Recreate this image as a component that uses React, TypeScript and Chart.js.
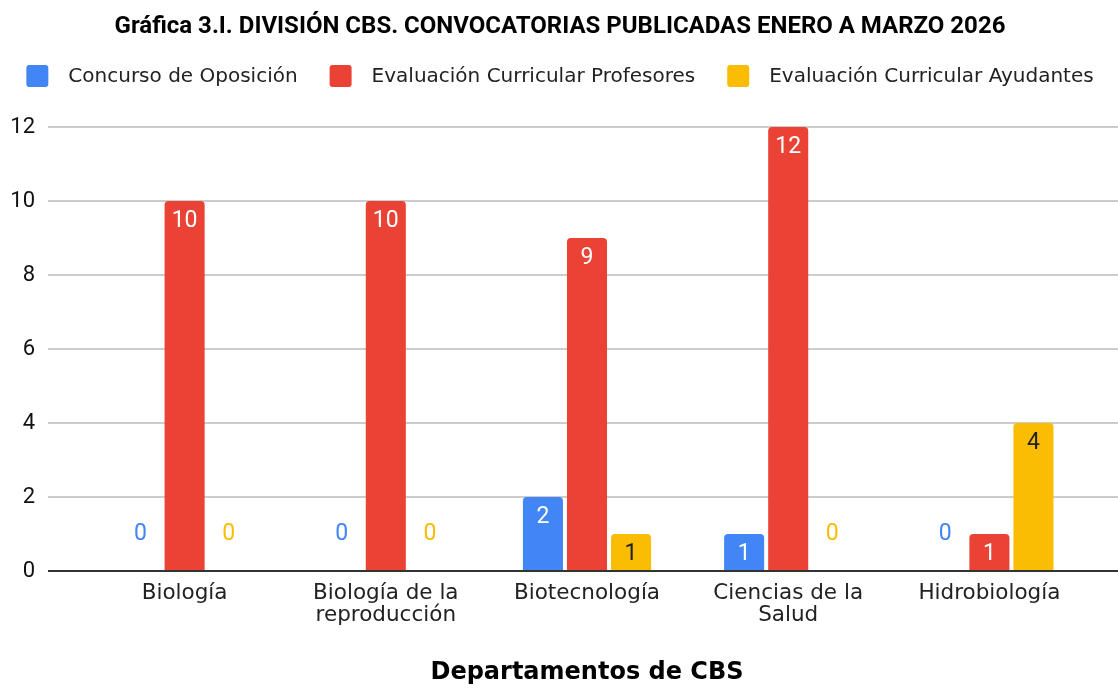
import React, { useEffect, useRef } from "react";
import { Chart, registerables } from "chart.js";

Chart.register(...registerables);

const TITLE = "Gráfica 3.I. DIVISIÓN CBS. CONVOCATORIAS PUBLICADAS ENERO A MARZO 2026";
const X_TITLE = "Departamentos de CBS";
const categories: (string | string[])[] = [
  "Biología",
  ["Biología de la", "reproducción"],
  "Biotecnología",
  ["Ciencias de la", "Salud"],
  "Hidrobiología",
];
const seriesNames = [
  "Concurso de Oposición",
  "Evaluación Curricular Profesores",
  "Evaluación Curricular Ayudantes",
];
const concurso = [0, 0, 2, 1, 0];
const profesores = [10, 10, 9, 12, 1];
const ayudantes = [0, 0, 1, 0, 4];
const colors = ["#4285F4", "#EA4335", "#FBBC04"];
const labelColors = ["#ffffff", "#ffffff", "#222222"];
const yTicks = [0, 2, 4, 6, 8, 10, 12];

const W = 1118;
const H = 688;

const gridPlugin = {
  id: "fullGrid",
  beforeDatasetsDraw(chart: any) {
    const { ctx } = chart;
    const y = chart.scales.y;
    ctx.save();
    ctx.strokeStyle = "#cccccc";
    ctx.lineWidth = 2;
    for (const v of yTicks) {
      if (v === 0) continue;
      const py = Math.round(y.getPixelForValue(v));
      ctx.beginPath();
      ctx.moveTo(48, py);
      ctx.lineTo(W, py);
      ctx.stroke();
    }
    ctx.restore();
  },
  afterDatasetsDraw(chart: any) {
    const { ctx } = chart;
    const y = chart.scales.y;
    const base = Math.round(y.getPixelForValue(0));
    ctx.save();
    ctx.strokeStyle = "#333333";
    ctx.lineWidth = 2;
    ctx.beginPath();
    ctx.moveTo(48, base);
    ctx.lineTo(W, base);
    ctx.stroke();
    // data labels
    ctx.font = "23px Roboto";
    ctx.textAlign = "center";
    ctx.textBaseline = "middle";
    chart.data.datasets.forEach((ds: any, di: number) => {
      const meta = chart.getDatasetMeta(di);
      meta.data.forEach((el: any, i: number) => {
        const v = ds.data[i];
        if (v > 0) {
          ctx.fillStyle = labelColors[di];
          ctx.fillText(String(v), el.x, el.y + 20);
        } else {
          ctx.fillStyle = colors[di];
          ctx.fillText(String(v), el.x, base - 37);
        }
      });
    });
    ctx.restore();
  },
  afterDraw(chart: any) {
    const { ctx } = chart;
    ctx.save();
    // title
    ctx.font = "bold 24px Roboto";
    ctx.fillStyle = "#000000";
    ctx.textAlign = "center";
    ctx.textBaseline = "middle";
    ctx.fillText(TITLE, 560, 27);
    // legend
    ctx.font = "20px 'DejaVu Sans'";
    const box = 22;
    const gapText = 20;
    const gapItem = 32;
    const widths = seriesNames.map((n) => ctx.measureText(n).width);
    const total =
      widths.reduce((a, w) => a + box + gapText + w, 0) + gapItem * (seriesNames.length - 1);
    let x = 560 - total / 2;
    const cy = 76;
    ctx.textAlign = "left";
    seriesNames.forEach((n, i) => {
      ctx.fillStyle = colors[i];
      ctx.beginPath();
      (ctx as any).roundRect(x, cy - box / 2, box, box, 3);
      ctx.fill();
      ctx.fillStyle = "#222222";
      ctx.fillText(n, x + box + gapText, cy + 1);
      x += box + gapText + widths[i] + gapItem;
    });
    ctx.restore();
  },
};

export default function App() {
  const ref = useRef<HTMLCanvasElement | null>(null);
  useEffect(() => {
    if (!ref.current) return;
    const data = [concurso, profesores, ayudantes];
    const chart = new Chart(ref.current, {
      type: "bar",
      data: {
        labels: categories as any,
        datasets: data.map((d, i) => ({
          label: seriesNames[i],
          data: d,
          backgroundColor: colors[i],
          borderRadius: { topLeft: 4, topRight: 4, bottomLeft: 0, bottomRight: 0 },
          borderSkipped: false,
          barPercentage: 0.909,
          categoryPercentage: 0.657,
        })),
      },
      options: {
        responsive: false,
        animation: false,
        layout: { padding: { top: 127, right: 28, left: 0, bottom: 0 } },
        plugins: {
          legend: { display: false },
          title: { display: false },
          tooltip: { enabled: false },
        },
        scales: {
          x: {
            offset: true,
            grid: { display: false, drawTicks: false },
            border: { display: false },
            ticks: {
              color: "#222222",
              font: { family: "'DejaVu Sans'", size: 21.5, lineHeight: 1.0 },
              padding: 12,
              maxRotation: 0,
              autoSkip: false,
            },
            title: {
              display: true,
              text: X_TITLE,
              color: "#000000",
              font: { family: "'DejaVu Sans'", size: 24, weight: "bold" },
              padding: { top: 4, bottom: 1 },
            },
            afterFit(scale: any) {
              scale.height = H - 571;
            },
          },
          y: {
            min: 0,
            max: 12,
            grid: { display: false },
            border: { display: false },
            ticks: {
              stepSize: 2,
              color: "#111111",
              font: { family: "Roboto", size: 22 },
              padding: 41,
            },
            afterFit(scale: any) {
              scale.width = 84;
            },
          },
        },
      },
      plugins: [gridPlugin],
    });
    return () => chart.destroy();
  }, []);
  return (
    <div style={{ position: "absolute", left: 0, top: 0, width: W, height: H, background: "#fff" }}>
      <canvas ref={ref} width={W} height={H} style={{ display: "block" }} />
    </div>
  );
}
